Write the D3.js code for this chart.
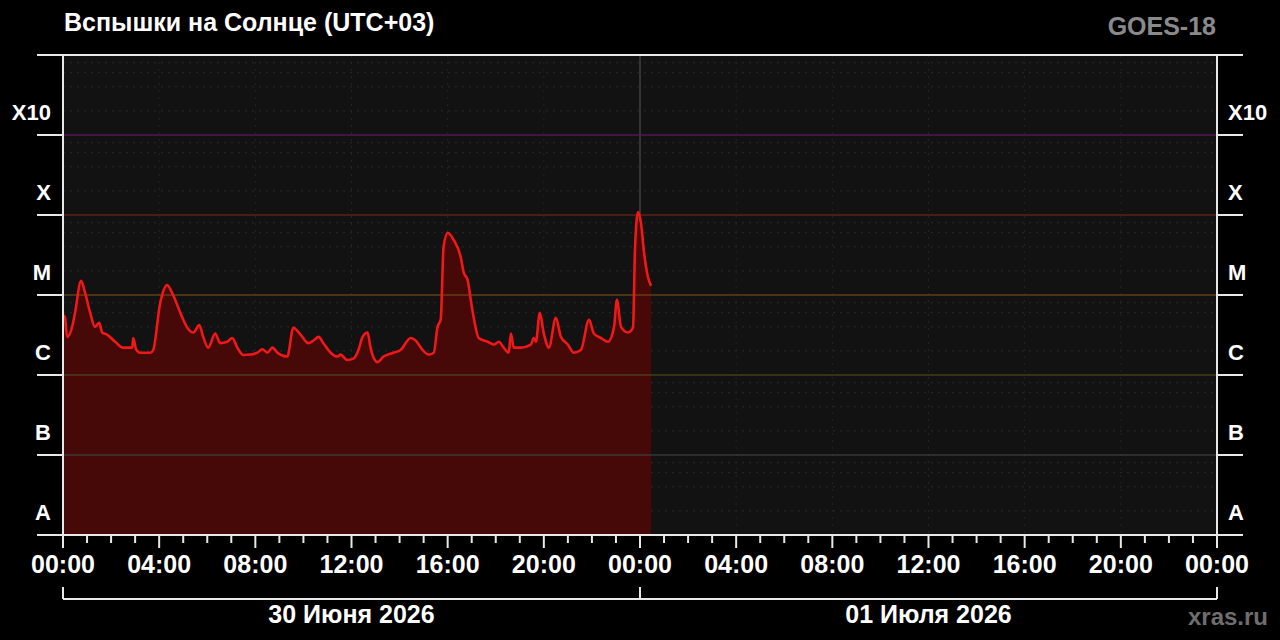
<!DOCTYPE html>
<html>
<head>
<meta charset="utf-8">
<script src="https://cdn.jsdelivr.net/npm/d3@7"></script>
<style>
  html, body { margin: 0; padding: 0; background: #000; }
  svg { display: block; }
  text { font-family: "Liberation Sans", Arial, sans-serif; font-weight: bold; }
</style>
</head>
<body>
<svg id="chart"></svg>
<script>
// hours since 30 Jun 2026 00:00 (UTC+03)
const hours = [0.00, 0.08, 0.17, 0.38, 0.50, 0.75, 0.92, 1.13, 1.33, 1.50, 1.63, 1.83, 2.17, 2.50, 2.88, 2.92,
  3.04, 3.21, 3.63, 3.75, 4.04, 4.33, 4.58, 4.88, 5.17, 5.42, 5.67, 5.83, 6.04, 6.33, 6.54, 6.83, 7.04, 7.25,
  7.50, 7.79, 8.08, 8.29, 8.50, 8.71, 8.92, 9.33, 9.58, 9.88, 10.21, 10.42, 10.63, 10.83, 11.13, 11.42, 11.54,
  11.83, 12.08, 12.29, 12.46, 12.67, 12.79, 13.08, 13.33, 13.75, 14.04, 14.46, 14.67, 14.96, 15.21, 15.42,
  15.58, 15.71, 15.83, 16.00, 16.25, 16.54, 16.67, 16.83, 16.96, 17.08, 17.29, 17.67, 17.92, 18.13, 18.33,
  18.54, 18.63, 18.75, 19.04, 19.46, 19.58, 19.67, 19.83, 20.00, 20.21, 20.50, 20.71, 21.00, 21.25, 21.54,
  21.88, 22.08, 22.38, 22.67, 22.92, 23.04, 23.21, 23.50, 23.71, 23.79, 23.92, 24.04, 24.17, 24.33, 24.46];

// X-ray flux, W/m2
const flux = [5.6e-6, 5.3e-6, 3.0e-6, 4.0e-6, 6.0e-6, 1.5e-5, 1.06e-5, 6.0e-6, 4.0e-6, 4.5e-6, 3.4e-6, 3.2e-6,
  2.6e-6, 2.2e-6, 2.2e-6, 2.9e-6, 2.1e-6, 1.9e-6, 1.9e-6, 2.05e-6, 7.9e-6, 1.33e-5, 1.0e-5, 6.0e-6, 3.9e-6,
  3.4e-6, 4.2e-6, 3.0e-6, 2.2e-6, 3.3e-6, 2.5e-6, 2.6e-6, 2.9e-6, 2.2e-6, 1.78e-6, 1.8e-6, 1.9e-6, 2.1e-6,
  1.9e-6, 2.2e-6, 1.9e-6, 1.7e-6, 3.9e-6, 3.2e-6, 2.5e-6, 2.7e-6, 3.0e-6, 2.5e-6, 1.9e-6, 1.7e-6, 1.8e-6,
  1.54e-6, 1.6e-6, 2.05e-6, 3.0e-6, 3.4e-6, 2.2e-6, 1.45e-6, 1.7e-6, 1.9e-6, 2.05e-6, 2.9e-6, 2.7e-6,
  2.05e-6, 1.8e-6, 1.9e-6, 4.0e-6, 4.9e-6, 4.0e-5, 6.0e-5, 4.9e-5, 3.0e-5, 1.9e-5, 1.54e-5, 8.7e-6, 5.3e-6,
  2.9e-6, 2.6e-6, 2.4e-6, 2.6e-6, 2.2e-6, 1.9e-6, 3.3e-6, 2.2e-6, 2.2e-6, 2.4e-6, 2.9e-6, 2.6e-6, 6.0e-6,
  3.3e-6, 2.2e-6, 5.2e-6, 3.0e-6, 2.4e-6, 1.9e-6, 2.05e-6, 4.9e-6, 3.3e-6, 2.9e-6, 2.6e-6, 4.0e-6, 8.7e-6,
  4.0e-6, 3.4e-6, 3.9e-6, 3.65e-5, 1.09e-4, 7.9e-5, 3.35e-5, 1.68e-5, 1.3e-5];

const classNames = ["A", "B", "C", "M", "X", "X10"];
const classLevels = [1e-8, 1e-7, 1e-6, 1e-5, 1e-4, 1e-3];
const levelColors = ["#3a3a3a", "#3c3c3c", "#4a4418", "#6a4418", "#6a2418", "#5a1a5a"];
const dayLabels = ["30 Июня 2026", "01 Июля 2026"];

const width = 1280;
const height = 640;
const plotLeft = 63, plotRight = 1217, plotTop = 55, plotBottom = 535;

const start = new Date(Date.UTC(2026, 5, 30));
const end = new Date(Date.UTC(2026, 6, 2));
const toDate = h => new Date(start.getTime() + h * 3600e3);

const svg = d3.select("#chart")
    .attr("width", width)
    .attr("height", height);

const x = d3.scaleUtc()
    .domain([start, end])
    .range([plotLeft, plotRight]);

const y = d3.scaleLog()
    .domain([1e-8, 1e-2])
    .range([plotBottom, plotTop]);

const data = hours.map((h, i) => ({ t: toDate(h), v: flux[i] }));

// plot background
svg.append("rect")
    .attr("x", plotLeft).attr("y", plotTop)
    .attr("width", plotRight - plotLeft).attr("height", plotBottom - plotTop)
    .attr("fill", "#121212");

// dotted grid at 2,4,6,8 of each decade
const minorLevels = [];
classLevels.forEach(d => [2, 4, 6, 8].forEach(k => minorLevels.push(d * k)));
svg.append("g")
    .selectAll("line")
    .data(minorLevels)
    .enter()
    .append("line")
    .attr("x1", plotLeft).attr("x2", plotRight)
    .attr("y1", d => y(d)).attr("y2", d => y(d))
    .attr("stroke", "#2c2c2c")
    .attr("stroke-dasharray", "2,5");

svg.append("g")
    .selectAll("line")
    .data(x.ticks(d3.utcHour.every(4)).slice(1, -1))
    .enter()
    .append("line")
    .attr("x1", d => x(d)).attr("x2", d => x(d))
    .attr("y1", plotTop).attr("y2", plotBottom)
    .attr("stroke", "#242424")
    .attr("stroke-dasharray", "2,5");

// midnight marker
svg.append("line")
    .attr("x1", x(toDate(24))).attr("x2", x(toDate(24)))
    .attr("y1", plotTop).attr("y2", plotBottom)
    .attr("stroke", "#555")
    .attr("stroke-width", 1);

// flux area + line
const area = d3.area()
    .x(d => x(d.t))
    .y0(plotBottom)
    .y1(d => y(d.v))
    .curve(d3.curveMonotoneX);

const line = d3.line()
    .x(d => x(d.t))
    .y(d => y(d.v))
    .curve(d3.curveMonotoneX);

svg.append("path")
    .datum(data)
    .attr("d", area)
    .attr("fill", "#470808");

// class level lines
svg.append("g")
    .selectAll("line")
    .data(classLevels.slice(1))
    .enter()
    .append("line")
    .attr("x1", plotLeft).attr("x2", plotRight)
    .attr("y1", d => y(d)).attr("y2", d => y(d))
    .attr("stroke", (d, i) => levelColors[i + 1])
    .attr("stroke-width", 1.5)
    .attr("opacity", 0.9);

svg.append("path")
    .datum(data)
    .attr("d", line)
    .attr("fill", "none")
    .attr("stroke", "#f01818")
    .attr("stroke-width", 2.6)
    .attr("stroke-linejoin", "round");

// frame
const frame = svg.append("g")
    .attr("stroke", "#e8e8e8")
    .attr("stroke-width", 2);

frame.append("line").attr("x1", 37).attr("x2", 1243).attr("y1", plotTop).attr("y2", plotTop);
frame.append("line").attr("x1", 37).attr("x2", 1243).attr("y1", plotBottom).attr("y2", plotBottom);
frame.append("line").attr("x1", plotLeft).attr("x2", plotLeft).attr("y1", plotTop).attr("y2", 548);
frame.append("line").attr("x1", plotRight).attr("x2", plotRight).attr("y1", plotTop).attr("y2", 548);

// y ticks both sides
frame.selectAll(".ytick")
    .data(classLevels.slice(1))
    .enter()
    .append("path")
    .attr("d", d => `M37,${y(d)}H${plotLeft}M${plotRight},${y(d)}H1243`);

// y labels
svg.append("g")
    .selectAll("text")
    .data(classNames)
    .enter()
    .append("text")
    .attr("x", 51)
    .attr("y", (d, i) => y(classLevels[i]) - 15)
    .attr("text-anchor", "end")
    .attr("fill", "#fff")
    .style("font-size", "22px")
    .text(d => d);

svg.append("g")
    .selectAll("text")
    .data(classNames)
    .enter()
    .append("text")
    .attr("x", 1228)
    .attr("y", (d, i) => y(classLevels[i]) - 15)
    .attr("fill", "#fff")
    .style("font-size", "22px")
    .text(d => d);

// x axis ticks
frame.selectAll(".minor")
    .data(x.ticks(d3.utcHour.every(1)))
    .enter()
    .append("line")
    .attr("x1", d => x(d)).attr("x2", d => x(d))
    .attr("y1", plotBottom)
    .attr("y2", d => d.getUTCHours() % 4 === 0 ? 548 : 543);

const fmt = d3.utcFormat("%H:%M");
svg.append("g")
    .selectAll("text")
    .data(x.ticks(d3.utcHour.every(4)))
    .enter()
    .append("text")
    .attr("x", d => x(d))
    .attr("y", 573)
    .attr("text-anchor", "middle")
    .attr("fill", "#fff")
    .style("font-size", "25px")
    .text(d => fmt(d));

// day brackets
const days = [start, toDate(24), end];
frame.append("line").attr("x1", plotLeft).attr("x2", plotRight).attr("y1", 599).attr("y2", 599);
frame.selectAll(".dtick")
    .data(days)
    .enter()
    .append("line")
    .attr("x1", d => x(d)).attr("x2", d => x(d))
    .attr("y1", 587).attr("y2", 599);

svg.append("g")
    .selectAll("text")
    .data(dayLabels)
    .enter()
    .append("text")
    .attr("x", (d, i) => (x(days[i]) + x(days[i + 1])) / 2)
    .attr("y", 623)
    .attr("text-anchor", "middle")
    .attr("fill", "#fff")
    .style("font-size", "25px")
    .text(d => d);

// titles
svg.append("text")
    .attr("x", 64).attr("y", 31)
    .attr("fill", "#fff")
    .style("font-size", "25px")
    .text("Вспышки на Солнце (UTC+03)");

svg.append("text")
    .attr("x", 1216).attr("y", 35)
    .attr("text-anchor", "end")
    .attr("fill", "#8a8a8a")
    .style("font-size", "25px")
    .text("GOES-18");

svg.append("text")
    .attr("x", 1268).attr("y", 625)
    .attr("text-anchor", "end")
    .attr("fill", "#6e6e6e")
    .style("font-size", "24px")
    .text("xras.ru");
</script>
</body>
</html>
